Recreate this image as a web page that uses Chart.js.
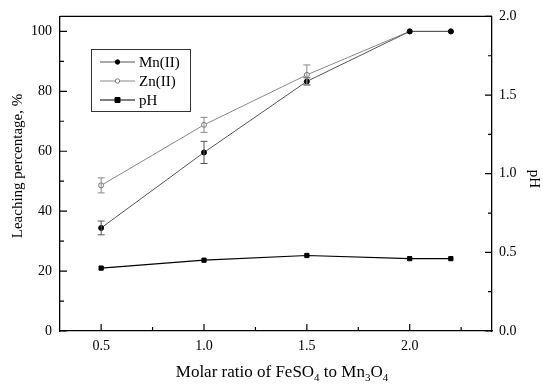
<!DOCTYPE html>
<html>
<head>
<meta charset="utf-8">
<script src="https://cdn.jsdelivr.net/npm/chart.js@4.4.0/dist/chart.umd.min.js"></script>
<style>
  html, body { margin: 0; padding: 0; background: #fff; }
</style>
</head>
<body>
<canvas id="chart" width="543" height="385"></canvas>
<script>
// data
const ratios = [0.5, 1.0, 1.5, 2.0, 2.2];
const mnLeach = [34.4, 59.6, 83.3, 100, 100];
const mnErr = [2.3, 3.7, 1.2, 0, 0];
const znLeach = [48.6, 68.8, 85.5, 100, 100];
const znErr = [2.5, 2.5, 3.3, 0, 0];
const phValues = [0.40, 0.45, 0.48, 0.46, 0.46];

const xTicks = [0.5, 1.0, 1.5, 2.0];
const xMinor = [0.75, 1.25, 1.75, 2.25];
const leftTicks = [0, 20, 40, 60, 80, 100];
const leftMinor = [10, 30, 50, 70, 90];
const rightTicks = [0, 0.5, 1.0, 1.5, 2.0];
const rightMinor = [0.25, 0.75, 1.25, 1.75];

const FONT = "'Liberation Serif', 'Times New Roman', serif";

function pts(ys) {
  return ratios.map((x, i) => ({ x: x, y: ys[i] }));
}

// inward ticks, error bars, titles and the boxed legend
const extras = {
  id: "extras",
  afterDatasetsDraw(chart) {
    const ctx = chart.ctx;
    const a = chart.chartArea;
    const sx = chart.scales.x, sl = chart.scales.y, sr = chart.scales.y1;
    ctx.save();

    // error bars
    [[0, mnErr], [1, znErr]].forEach(([di, errs]) => {
      const ds = chart.data.datasets[di];
      ctx.strokeStyle = ds.borderColor;
      ctx.lineWidth = 1;
      ds.data.forEach((p, i) => {
        if (!errs[i]) return;
        const px = sx.getPixelForValue(p.x);
        const y1 = sl.getPixelForValue(p.y + errs[i]);
        const y2 = sl.getPixelForValue(p.y - errs[i]);
        ctx.beginPath();
        ctx.moveTo(px, y1); ctx.lineTo(px, y2);
        ctx.moveTo(px - 3.5, y1); ctx.lineTo(px + 3.5, y1);
        ctx.moveTo(px - 3.5, y2); ctx.lineTo(px + 3.5, y2);
        ctx.stroke();
      });
    });

    // frame top line
    ctx.strokeStyle = "#000";
    ctx.lineWidth = 1.3;
    ctx.beginPath();
    ctx.moveTo(a.left, a.top); ctx.lineTo(a.right, a.top);
    ctx.stroke();

    // ticks pointing inward
    ctx.lineWidth = 1.2;
    ctx.beginPath();
    xTicks.forEach(v => { const p = sx.getPixelForValue(v); ctx.moveTo(p, a.bottom); ctx.lineTo(p, a.bottom - 7); });
    xMinor.forEach(v => { const p = sx.getPixelForValue(v); ctx.moveTo(p, a.bottom); ctx.lineTo(p, a.bottom - 4); });
    leftTicks.forEach(v => { const p = sl.getPixelForValue(v); ctx.moveTo(a.left, p); ctx.lineTo(a.left + 7, p); });
    leftMinor.forEach(v => { const p = sl.getPixelForValue(v); ctx.moveTo(a.left, p); ctx.lineTo(a.left + 4, p); });
    rightTicks.forEach(v => { const p = sr.getPixelForValue(v); ctx.moveTo(a.right, p); ctx.lineTo(a.right - 7, p); });
    rightMinor.forEach(v => { const p = sr.getPixelForValue(v); ctx.moveTo(a.right, p); ctx.lineTo(a.right - 4, p); });
    ctx.stroke();

    // axis titles
    ctx.fillStyle = "#000";
    ctx.textBaseline = "alphabetic";
    const parts = [["Molar ratio of FeSO", 0], ["4", 1], [" to Mn", 0], ["3", 1], ["O", 0], ["4", 1]];
    const fnt = sub => (sub ? "11px " : "17px ") + FONT;
    let w = 0;
    parts.forEach(([t, sub]) => { ctx.font = fnt(sub); w += ctx.measureText(t).width; });
    let x = 282 - w / 2;
    parts.forEach(([t, sub]) => {
      ctx.font = fnt(sub);
      ctx.fillText(t, x, sub ? 381 : 377);
      x += ctx.measureText(t).width;
    });

    ctx.font = "15px " + FONT;
    ctx.textAlign = "center";
    ctx.save();
    ctx.translate(22, 166);
    ctx.rotate(-Math.PI / 2);
    ctx.fillText("Leaching percentage, %", 0, 0);
    ctx.restore();
    ctx.save();
    ctx.translate(530, 179);
    ctx.rotate(Math.PI / 2);
    ctx.fillText("pH", 0, 0);
    ctx.restore();

    // legend
    ctx.lineWidth = 1;
    ctx.strokeStyle = "#333";
    ctx.strokeRect(91.5, 49.5, 99, 62);
    ctx.textAlign = "left";
    ctx.textBaseline = "middle";
    chart.data.datasets.forEach((ds, i) => {
      const y = 62 + i * 19;
      ctx.strokeStyle = ds.borderColor;
      ctx.beginPath();
      ctx.moveTo(100, y); ctx.lineTo(135, y);
      ctx.stroke();
      ctx.fillStyle = ds.pointBackgroundColor;
      ctx.strokeStyle = ds.pointBorderColor;
      ctx.beginPath();
      if (ds.pointStyle === "rect") {
        ctx.rect(115, y - 2.5, 5, 5);
      } else {
        ctx.arc(117.5, y, 2.2, 0, Math.PI * 2);
      }
      ctx.fill();
      ctx.stroke();
      ctx.fillStyle = "#000";
      ctx.font = "15px " + FONT;
      ctx.fillText(ds.label, 139, y + 1);
    });
    ctx.restore();
  }
};

new Chart(document.getElementById("chart"), {
  type: "line",
  data: {
    datasets: [
      {
        label: "Mn(II)",
        data: pts(mnLeach),
        yAxisID: "y",
        borderColor: "#555",
        borderWidth: 1,
        pointStyle: "circle",
        pointRadius: 2.5,
        pointBackgroundColor: "#000",
        pointBorderColor: "#000",
        pointBorderWidth: 1
      },
      {
        label: "Zn(II)",
        data: pts(znLeach),
        yAxisID: "y",
        borderColor: "#888",
        borderWidth: 1,
        pointStyle: "circle",
        pointRadius: 2.5,
        pointBackgroundColor: "#fff",
        pointBorderColor: "#777",
        pointBorderWidth: 1
      },
      {
        label: "pH",
        data: pts(phValues),
        yAxisID: "y1",
        borderColor: "#000",
        borderWidth: 1.2,
        pointStyle: "rect",
        pointRadius: 3,
        pointBackgroundColor: "#000",
        pointBorderColor: "#000",
        pointBorderWidth: 1
      }
    ]
  },
  options: {
    responsive: false,
    devicePixelRatio: 1,
    animation: false,
    layout: { padding: { top: 16, left: 0, right: 0, bottom: 0 } },
    plugins: { legend: { display: false }, tooltip: { enabled: false } },
    scales: {
      x: {
        type: "linear",
        min: 0.3,
        max: 2.4,
        afterBuildTicks: s => { s.ticks = xTicks.map(v => ({ value: v })); },
        afterFit: s => { s.height = 54; },
        ticks: { callback: v => v.toFixed(1), color: "#000", font: { family: FONT, size: 14 }, padding: 7, maxRotation: 0 },
        grid: { drawOnChartArea: false, drawTicks: false },
        border: { color: "#000", width: 1.3 }
      },
      y: {
        position: "left",
        min: 0,
        max: 105,
        afterBuildTicks: s => { s.ticks = leftTicks.map(v => ({ value: v })); },
        afterFit: s => { s.width = 60; },
        ticks: { color: "#000", font: { family: FONT, size: 14 }, padding: 8 },
        grid: { drawOnChartArea: false, drawTicks: false },
        border: { color: "#000", width: 1.3 }
      },
      y1: {
        position: "right",
        min: 0,
        max: 2,
        afterBuildTicks: s => { s.ticks = rightTicks.map(v => ({ value: v })); },
        afterFit: s => { s.width = 51; },
        ticks: { callback: v => v.toFixed(1), color: "#000", font: { family: FONT, size: 14 }, padding: 7 },
        grid: { drawOnChartArea: false, drawTicks: false },
        border: { color: "#000", width: 1.3 }
      }
    }
  },
  plugins: [extras]
});
</script>
</body>
</html>
